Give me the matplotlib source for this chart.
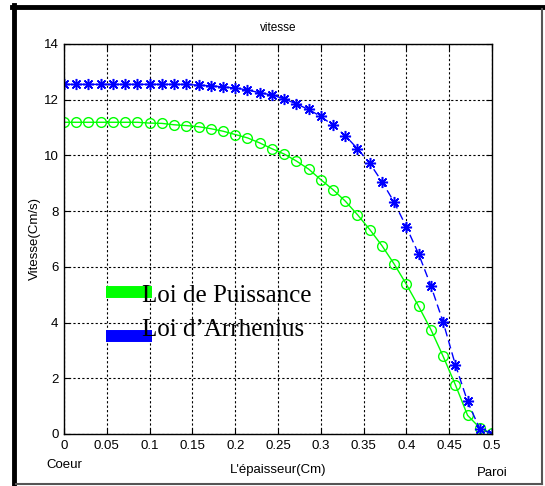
import numpy as np
from matplotlib import pyplot as plt
from matplotlib.lines import Line2D

plt.rcParams['font.family'] = ['Liberation Sans', 'DejaVu Sans']

# epaisseur: 36 points de 0 a 0.5
x = np.linspace(0, 0.5, 36)

v_puissance = [11.19, 11.19, 11.19, 11.19, 11.19, 11.19, 11.19, 11.16, 11.15, 11.10,
               11.07, 11.03, 10.96, 10.87, 10.75, 10.63, 10.45, 10.24, 10.05, 9.80,
               9.51, 9.13, 8.77, 8.36, 7.87, 7.34, 6.76, 6.10, 5.37, 4.58,
               3.75, 2.79, 1.77, 0.67, 0.22, 0.02]

v_arrhenius = [12.55, 12.55, 12.55, 12.55, 12.55, 12.55, 12.55, 12.55, 12.55, 12.55,
               12.55, 12.52, 12.50, 12.46, 12.42, 12.35, 12.25, 12.17, 12.03, 11.85,
               11.65, 11.40, 11.08, 10.71, 10.24, 9.72, 9.06, 8.32, 7.43, 6.46,
               5.32, 4.02, 2.49, 1.17, 0.18, 0.01]

xticks = [0, 0.05, 0.1, 0.15, 0.2, 0.25, 0.3, 0.35, 0.4, 0.45, 0.5]
xticklabels = ['0', '0.05', '0.1', '0.15', '0.2', '0.25', '0.3', '0.35', '0.4', '0.45', '0.5']
yticks = [0, 2, 4, 6, 8, 10, 12, 14]

fig = plt.figure(figsize=(5.45, 4.86), dpi=100)
ax = fig.add_axes([0.1174, 0.107, 0.7854, 0.8025])

green = '#00ff00'
blue = '#0000ff'

ax.plot(x, v_puissance, '-', color=green, lw=1, marker='o', ms=7,
        mfc='none', mec=green, mew=1)
ax.plot(x, v_arrhenius, '--', color=blue, lw=1, dashes=(6, 3), marker=(8, 2, 0), ms=8,
        mfc=blue, mec=blue, mew=1.1)

ax.set_xlim(0, 0.5)
ax.set_ylim(0, 14)
ax.set_xticks(xticks)
ax.set_xticklabels(xticklabels)
ax.set_yticks(yticks)
ax.tick_params(direction='in', length=4, labelsize=9.5, width=0.8, top=True, right=True, pad=4)
ax.grid(True, color='black', linestyle=(0, (2, 2)), lw=0.8)
for s in ax.spines.values():
    s.set_linewidth(1)

ax.set_title('vitesse', fontsize=8.5, pad=9)
ax.set_ylabel('Vitesse(Cm/s)', fontsize=9.5, labelpad=2)
ax.set_xlabel("L'épaisseur(Cm)", fontsize=9.5, labelpad=9)
ax.text(0, -0.065, 'Coeur', transform=ax.transAxes, ha='center', va='top', fontsize=9.5)
ax.text(1.0, -0.085, 'Paroi', transform=ax.transAxes, ha='center', va='top', fontsize=9.5)

handles = [Line2D([], [], color=green, lw=8.6, solid_capstyle='butt'),
           Line2D([], [], color=blue, lw=8.6, solid_capstyle='butt')]
leg = ax.legend(handles, ['Loi de Puissance', "Loi d\u2019Arrhenius"], loc='upper left',
                bbox_to_anchor=(0.075, 0.409), frameon=False, handlelength=1.85,
                handletextpad=-0.4, labelspacing=0.45, borderaxespad=0,
                prop={'family': 'Liberation Serif', 'size': 18})
# decaler les barres comme dans l'original
for h, dy in zip(leg.legend_handles, [1.0, -6.5]):
    h.set_ydata(np.asarray(h.get_ydata()) + dy)

# cadre de la figure
fig.add_artist(Line2D([14 / 545, 14 / 545], [1 - 5 / 486, 1 - 485 / 486], color='black', lw=3.5))
fig.add_artist(Line2D([12 / 545, 544 / 545], [1 - 7 / 486, 1 - 7 / 486], color='black', lw=3.5))
fig.add_artist(Line2D([541.5 / 545, 541.5 / 545], [1 - 9 / 486, 1 - 484 / 486], color='#555555', lw=1.5))
fig.add_artist(Line2D([16 / 545, 542 / 545], [1 - 484 / 486, 1 - 484 / 486], color='#555555', lw=1.5))

fig.savefig('out.png', dpi=100)
